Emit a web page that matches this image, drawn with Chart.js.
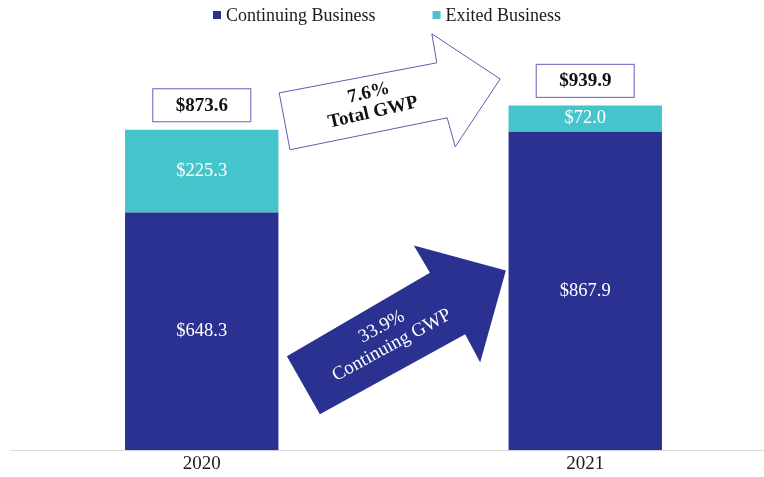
<!DOCTYPE html>
<html>
<head>
<meta charset="utf-8">
<script src="https://cdn.jsdelivr.net/npm/chart.js@4/dist/chart.umd.min.js"></script>
<style>
  body { margin: 0; overflow: hidden; background: #fff; }
  #wrap { width: 780px; height: 477px; position: relative; }
</style>
</head>
<body>
<div id="wrap"><canvas id="gwp-chart"></canvas></div>
<script>
const years = ["2020", "2021"];
const continuing = [648.3, 867.9];
const exited = [225.3, 72.0];
const totals = [873.6, 939.9];
const growthTotal = "7.6%";
const growthContinuing = "33.9%";

const navy = "#2b3190";
const teal = "#45c4cc";
const serif = "'Liberation Serif', 'Times New Roman', serif";

// arrows: x as fraction between the two bar centres, y as a value on the y scale
const outlineArrow = [[0.202, 974], [0.613, 1056], [0.600, 1135], [0.778, 1012], [0.661, 827], [0.640, 906], [0.230, 819]];
const filledArrow = [[0.308, 98], [0.222, 256], [0.595, 484], [0.553, 558], [0.793, 490], [0.726, 239], [0.687, 316]];

const fmt = v => "$" + v.toFixed(1);

// legend drawn by hand so the gap between the two items can be wide
const legendPlugin = {
  id: "topLegend",
  afterDraw(chart) {
    const ctx = chart.ctx;
    ctx.save();
    ctx.font = "18px " + serif;
    ctx.textBaseline = "middle";
    const items = chart.data.datasets.map(d => ({ text: d.label, color: d.backgroundColor, w: 13 + ctx.measureText(d.label).width }));
    const gap = 57;
    let x = chart.width / 2 - 3 - (items.reduce((s, it) => s + it.w, 0) + gap) / 2;
    items.forEach(it => {
      ctx.fillStyle = it.color;
      ctx.fillRect(x, 11, 8, 8);
      ctx.fillStyle = "#1a1a1a";
      ctx.fillText(it.text, x + 13, 16);
      x += it.w + gap;
    });
    ctx.restore();
  }
};

const labelPlugin = {
  id: "labels",
  afterDatasetsDraw(chart) {
    const ctx = chart.ctx;
    const xs = chart.scales.x, ys = chart.scales.y;
    const x0 = xs.getPixelForValue(0), x1 = xs.getPixelForValue(1);
    const px = t => x0 + t * (x1 - x0);

    // segment values
    ctx.save();
    ctx.textAlign = "center";
    ctx.textBaseline = "middle";
    ctx.fillStyle = "#ffffff";
    ctx.font = "18.5px " + serif;
    chart.data.datasets.forEach((ds, i) => {
      chart.getDatasetMeta(i).data.forEach((bar, j) => {
        ctx.fillText(fmt(ds.data[j]), bar.x, (bar.y + bar.base) / 2);
      });
    });

    // total boxes
    const top = chart.getDatasetMeta(1).data;
    ctx.font = "bold 19px " + serif;
    totals.forEach((t, j) => {
      const bx = top[j].x, by = ys.getPixelForValue(t) - 8;
      ctx.fillStyle = "#fff";
      ctx.fillRect(bx - 49, by - 33, 98, 33);
      ctx.strokeStyle = "#7b7bc4";
      ctx.lineWidth = 1.2;
      ctx.strokeRect(bx - 49, by - 33, 98, 33);
      ctx.fillStyle = "#111";
      ctx.fillText(fmt(t), bx, by - 16);
    });

    // arrows
    const path = pts => {
      ctx.beginPath();
      pts.forEach((p, k) => {
        const X = px(p[0]), Y = ys.getPixelForValue(p[1]);
        k ? ctx.lineTo(X, Y) : ctx.moveTo(X, Y);
      });
      ctx.closePath();
    };
    path(outlineArrow);
    ctx.fillStyle = "#fff";
    ctx.fill();
    ctx.strokeStyle = "#5a5fb0";
    ctx.lineWidth = 1;
    ctx.stroke();
    path(filledArrow);
    ctx.fillStyle = navy;
    ctx.fill();

    // arrow text
    ctx.save();
    ctx.translate(px(0.441), ys.getPixelForValue(947));
    ctx.rotate(-13 * Math.PI / 180);
    ctx.fillStyle = "#111";
    ctx.font = "bold 19px " + serif;
    ctx.fillText(growthTotal, 0, -10);
    ctx.fillText("Total GWP", 0, 10);
    ctx.restore();

    ctx.save();
    ctx.translate(px(0.483), ys.getPixelForValue(310));
    ctx.rotate(-28.5 * Math.PI / 180);
    ctx.fillStyle = "#fff";
    ctx.font = "19px " + serif;
    ctx.fillText(growthContinuing, 0, -11);
    ctx.fillText("Continuing GWP", 0, 10);
    ctx.restore();
    ctx.restore();
  }
};

new Chart("gwp-chart", {
  type: "bar",
  data: {
    labels: years,
    datasets: [
      { label: "Continuing Business", data: continuing, backgroundColor: navy },
      { label: "Exited Business", data: exited, backgroundColor: teal }
    ]
  },
  options: {
    responsive: true,
    maintainAspectRatio: false,
    animation: false,
    barPercentage: 0.4,
    categoryPercentage: 1,
    layout: { padding: { left: 10, right: 3, top: 32, bottom: 0 } },
    plugins: {
      tooltip: { enabled: false },
      legend: { display: false }
    },
    scales: {
      x: {
        stacked: true,
        grid: { display: false, drawTicks: false },
        border: { color: "#dcdcdc" },
        ticks: { color: "#1a1a1a", font: { family: serif, size: 19 }, padding: 2 }
      },
      y: {
        stacked: true,
        display: false,
        min: 0,
        max: 1140
      }
    }
  },
  plugins: [labelPlugin, legendPlugin]
});
</script>
</body>
</html>
